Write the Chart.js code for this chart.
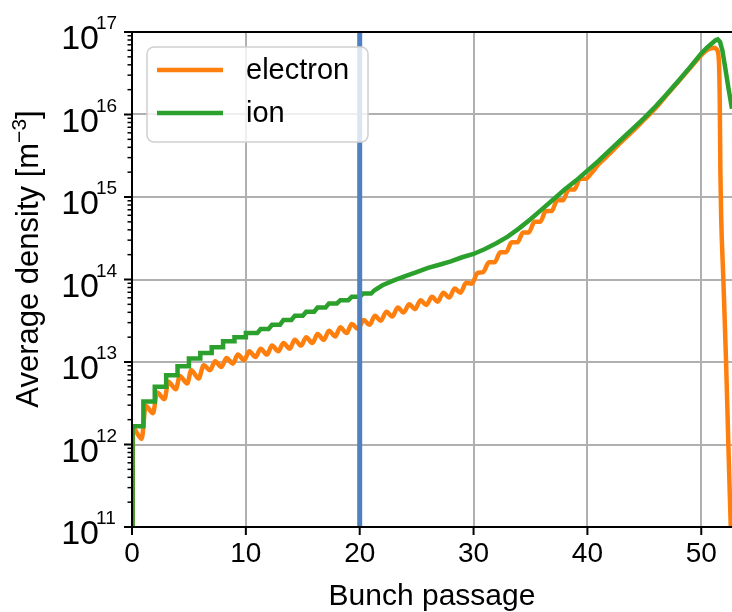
<!DOCTYPE html>
<html>
<head>
<meta charset="utf-8">
<script src="https://cdn.jsdelivr.net/npm/chart.js@4.4.1/dist/chart.umd.min.js"></script>
<style>
  html, body { margin: 0; padding: 0; background: #fff; }
  canvas { display: block; }
</style>
</head>
<body>
<canvas id="chart" width="732" height="612"></canvas>
<script>
const xTicks = [0, 10, 20, 30, 40, 50];
const yDecades = [11, 12, 13, 14, 15, 16, 17];

const seriesNames = ["electron", "ion"];

// electron: oscillates once per bunch, below the ion curve until ~40
const electronX = [
  0.05, 0.08, 0.85, 1.2, 1.85, 2.2, 2.85, 3.2, 3.85, 4.2, 4.85,
  5.2, 5.85, 6.3, 6.85, 7.3, 7.85, 8.3, 8.85, 9.3, 9.85,
  10.3, 10.85, 11.3, 11.85, 12.3, 12.85, 13.3, 13.85, 14.3, 14.85,
  15.3, 15.85, 16.3, 16.85, 17.3, 17.85, 18.3, 18.85, 19.3, 19.85,
  20.35, 20.85, 21.35, 21.85, 22.35, 22.85, 23.35, 23.85, 24.35, 24.85,
  25.35, 25.85, 26.35, 26.85, 27.35, 27.85, 28.35, 28.85, 29.35, 29.85,
  30.35, 30.85, 31.35, 31.85, 32.35, 32.85, 33.35, 33.85, 34.35, 34.85,
  35.35, 35.85, 36.35, 36.85, 37.35, 37.85, 38.35, 38.85, 39.35, 39.85,
  40.3, 41, 42, 43, 44, 45, 46, 47, 48, 49, 50, 50.5,
  51.15, 51.4, 51.56, 51.63, 51.68, 51.75, 51.94, 52.18, 52.38, 52.59
];
const electronY = [
  1e11, 1.58e12, 1.17e12, 2.95e12, 2.40e12, 4.27e12, 3.55e12, 5.75e12, 4.68e12, 6.76e12, 5.50e12,
  7.94e12, 6.31e12, 9.12e12, 7.94e12, 1.02e13, 8.71e12, 1.12e13, 9.55e12, 1.23e13, 1.05e13,
  1.35e13, 1.15e13, 1.45e13, 1.23e13, 1.58e13, 1.35e13, 1.70e13, 1.45e13, 1.86e13, 1.58e13,
  2.0e13, 1.70e13, 2.19e13, 1.86e13, 2.40e13, 2.04e13, 2.63e13, 2.24e13, 2.88e13, 2.51e13,
  3.24e13, 2.82e13, 3.63e13, 3.16e13, 4.07e13, 3.55e13, 4.57e13, 3.98e13, 5.01e13, 4.37e13,
  5.62e13, 4.90e13, 6.17e13, 5.37e13, 6.92e13, 6.03e13, 7.76e13, 6.92e13, 9.12e13, 8.91e13,
  1.20e14, 1.23e14, 1.62e14, 1.62e14, 2.14e14, 2.14e14, 2.82e14, 2.82e14, 3.72e14, 3.72e14,
  5.01e14, 5.01e14, 6.76e14, 6.76e14, 9.12e14, 9.12e14, 1.23e15, 1.23e15, 1.66e15, 1.66e15,
  1.91e15, 2.51e15, 3.39e15, 4.68e15, 6.31e15, 8.71e15, 1.20e16, 1.74e16, 2.51e16, 3.63e16, 5.25e16, 6.03e16,
  6.46e16, 6.03e16, 4.17e16, 1.26e16, 2.0e15, 5.62e14, 1.0e14, 1.0e13, 1.0e12, 1.0e11
];

// ion: one step per bunch, softening into smooth growth
const ionX = [
  0.05, 0.05, 1, 1, 2, 2, 3, 3, 4, 4, 5, 5, 6, 6, 7, 7, 8, 8, 9, 9, 10, 10,
  11, 11.3, 12, 12.3, 13, 13.3, 14, 14.3, 15, 15.3, 16, 16.3, 17, 17.3, 18, 18.3, 19, 19.3, 20, 20.3, 21, 21.3,
  22, 23, 24, 25, 26, 27, 28, 29, 30, 31, 32, 33, 34, 35, 36, 37, 38, 39, 40,
  41, 42, 43, 44, 45, 46, 47, 48, 49, 50, 50.5, 51, 51.25, 51.45, 51.65, 51.85, 52.1, 52.4, 52.7
];
const ionY = [
  1e11, 1.66e12, 1.66e12, 3.31e12, 3.31e12, 5.0e12, 5.0e12, 6.9e12, 6.9e12, 8.9e12, 8.9e12, 1.10e13,
  1.10e13, 1.29e13, 1.29e13, 1.51e13, 1.51e13, 1.78e13, 1.78e13, 2.0e13, 2.0e13, 2.24e13,
  2.24e13, 2.51e13, 2.51e13, 2.82e13, 2.82e13, 3.24e13, 3.24e13, 3.63e13, 3.63e13, 4.07e13,
  4.07e13, 4.57e13, 4.57e13, 5.13e13, 5.13e13, 5.62e13, 5.62e13, 6.17e13, 6.17e13, 6.76e13, 6.76e13, 7.41e13,
  8.51e13, 9.77e13, 1.10e14, 1.23e14, 1.38e14, 1.51e14, 1.66e14, 1.86e14, 2.04e14, 2.34e14, 2.75e14,
  3.31e14, 4.17e14, 5.37e14, 7.08e14, 9.33e14, 1.23e15, 1.58e15, 2.09e15,
  2.75e15, 3.72e15, 5.01e15, 6.76e15, 9.12e15, 1.26e16, 1.78e16, 2.57e16, 3.72e16, 5.5e16,
  6.46e16, 7.41e16, 7.94e16, 8.13e16, 7.59e16, 6.03e16, 3.72e16, 2.04e16, 1.17e16
];

// vertical marker at bunch 20
const markerX = [20, 20];
const markerY = [1e11, 1e17];

const FONT = '"Liberation Sans", Arial, Helvetica, sans-serif';
const GRID = "#b0b0b0";

function isDecade(v) {
  const l = Math.log10(v);
  return Math.abs(l - Math.round(l)) < 1e-6;
}

function toPoints(xs, ys) {
  return xs.map((x, i) => ({ x, y: ys[i] }));
}

const yTickValues = [];
yDecades.forEach((d, i) => {
  if (i === yDecades.length - 1) {
    yTickValues.push(Math.pow(10, d));
    return;
  }
  for (let m = 1; m <= 9; m++) yTickValues.push(m * Math.pow(10, d));
});

const decor = {
  id: "decor",
  afterDraw(chart) {
    const { ctx, chartArea: a, scales } = chart;
    const xs = scales.x;
    const ys = scales.y;
    ctx.save();
    ctx.strokeStyle = "#000";
    ctx.fillStyle = "#000";

    // spines
    ctx.lineWidth = 2;
    ctx.beginPath();
    ctx.moveTo(a.right, a.top);
    ctx.lineTo(a.left, a.top);
    ctx.lineTo(a.left, a.bottom);
    ctx.lineTo(a.right, a.bottom);
    ctx.stroke();

    // y ticks + labels
    ys.ticks.forEach((t) => {
      const py = ys.getPixelForValue(t.value);
      const major = isDecade(t.value);
      ctx.lineWidth = major ? 2 : 1.5;
      ctx.beginPath();
      ctx.moveTo(a.left - (major ? 8 : 4.5), py);
      ctx.lineTo(a.left, py);
      ctx.stroke();
    });
    yDecades.forEach((d) => {
      const py = ys.getPixelForValue(Math.pow(10, d));
      ctx.textBaseline = "alphabetic";
      ctx.font = "34px " + FONT;
      ctx.textAlign = "right";
      ctx.fillText("10", 99, py + 17);
      ctx.font = "19px " + FONT;
      ctx.textAlign = "left";
      ctx.fillText(String(d), 96, py - 3);
    });

    // x ticks + labels
    ctx.lineWidth = 2;
    ctx.font = "28px " + FONT;
    ctx.textAlign = "center";
    ctx.textBaseline = "top";
    xTicks.forEach((v) => {
      const px = xs.getPixelForValue(v);
      ctx.beginPath();
      ctx.moveTo(px, a.bottom);
      ctx.lineTo(px, a.bottom + 8);
      ctx.stroke();
      ctx.fillText(String(v), px, a.bottom + 13);
    });

    // axis titles
    ctx.font = "30px " + FONT;
    ctx.textBaseline = "alphabetic";
    ctx.fillText("Bunch passage", (a.left + a.right) / 2, 605);

    ctx.save();
    ctx.translate(38, 259);
    ctx.rotate(-Math.PI / 2);
    const main = "Average density [m";
    const sup = "\u22123";
    ctx.font = "31px " + FONT;
    const w1 = ctx.measureText(main).width;
    const w3 = ctx.measureText("]").width;
    ctx.font = "21px " + FONT;
    const w2 = ctx.measureText(sup).width;
    const sx = -(w1 + w2 + w3) / 2;
    ctx.textAlign = "left";
    ctx.font = "31px " + FONT;
    ctx.fillText(main, sx, 0);
    ctx.font = "21px " + FONT;
    ctx.fillText(sup, sx + w1, -12);
    ctx.font = "31px " + FONT;
    ctx.fillText("]", sx + w1 + w2, 0);
    ctx.restore();

    // legend
    const lx = 147, ly = 47, lw = 221, lh = 95;
    ctx.beginPath();
    ctx.roundRect(lx, ly, lw, lh, 7);
    ctx.fillStyle = "rgba(255,255,255,0.8)";
    ctx.fill();
    ctx.strokeStyle = "#d0d0d0";
    ctx.lineWidth = 1.5;
    ctx.stroke();
    const rows = [70, 113];
    chart.data.datasets.filter((ds) => seriesNames.includes(ds.label)).forEach((ds, i) => {
      ctx.strokeStyle = ds.borderColor;
      ctx.lineWidth = 4.5;
      ctx.beginPath();
      ctx.moveTo(157, rows[i]);
      ctx.lineTo(223, rows[i]);
      ctx.stroke();
      ctx.fillStyle = "#000";
      ctx.font = "29px " + FONT;
      ctx.textAlign = "left";
      ctx.textBaseline = "middle";
      ctx.fillText(ds.label, 246, rows[i] + 1);
    });
    ctx.restore();
  }
};

new Chart(document.getElementById("chart"), {
  type: "line",
  data: {
    datasets: [
      {
        label: seriesNames[0],
        data: toPoints(electronX, electronY),
        borderColor: "#ff7f0e",
        borderWidth: 4.5,
        pointRadius: 0,
        cubicInterpolationMode: "monotone",
        order: 2
      },
      {
        label: seriesNames[1],
        data: toPoints(ionX, ionY),
        borderColor: "#2ca02c",
        borderWidth: 4.5,
        pointRadius: 0,
        tension: 0,
        order: 1
      },
      {
        label: "marker",
        data: toPoints(markerX, markerY),
        borderColor: "#4f81c2",
        borderWidth: 5,
        pointRadius: 0,
        order: 0
      }
    ]
  },
  options: {
    responsive: false,
    animation: false,
    events: [],
    devicePixelRatio: 1,
    layout: { padding: { left: 132, right: 0, top: 32, bottom: 85 } },
    plugins: { legend: { display: false }, tooltip: { enabled: false } },
    scales: {
      x: {
        type: "linear",
        min: 0,
        max: 52.7,
        afterBuildTicks: (s) => { s.ticks = xTicks.map((v) => ({ value: v })); },
        afterFit: (s) => { s.height = 0; },
        ticks: { display: false },
        border: { display: false },
        grid: { color: GRID, lineWidth: 2, drawTicks: false }
      },
      y: {
        type: "logarithmic",
        min: 1e11,
        max: 1e17,
        afterBuildTicks: (s) => { s.ticks = yTickValues.map((v) => ({ value: v })); },
        afterFit: (s) => { s.width = 0; },
        ticks: { display: false },
        border: { display: false },
        grid: {
          color: (c) => (c.tick && isDecade(c.tick.value) ? GRID : "rgba(0,0,0,0)"),
          lineWidth: 2,
          drawTicks: false
        }
      }
    }
  },
  plugins: [decor]
});
</script>
</body>
</html>
